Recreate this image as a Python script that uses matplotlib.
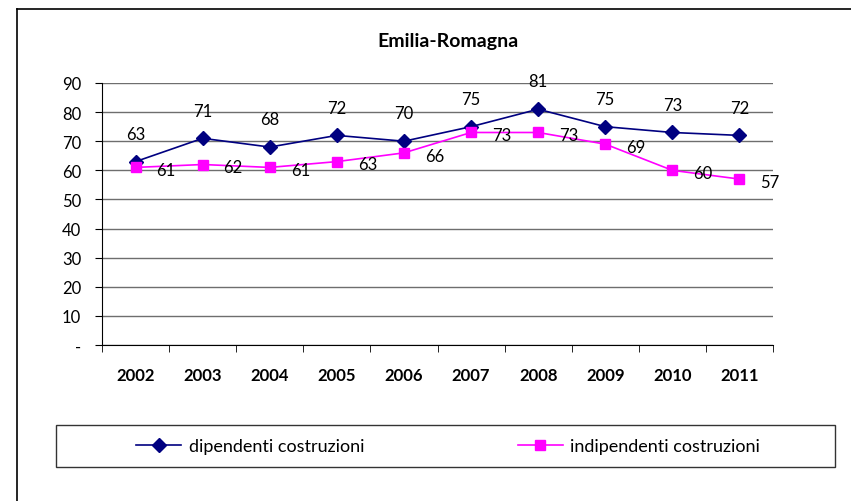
import numpy as np
import matplotlib.pyplot as plt
from matplotlib.lines import Line2D
from matplotlib.patches import Rectangle

plt.rcParams['font.family'] = ['Lato', 'DejaVu Sans']

years = ["2002", "2003", "2004", "2005", "2006", "2007", "2008", "2009", "2010", "2011"]
dipendenti = [63, 71, 68, 72, 70, 75, 81, 75, 73, 72]
indipendenti = [61, 62, 61, 63, 66, 73, 73, 69, 60, 57]

W, H = 851, 502
fig = plt.figure(figsize=(W / 100, H / 100), dpi=100)

# outer chart frame (right and bottom edges fall outside the image)
fig.add_artist(Line2D([17 / W, 1], [1 - 10 / H, 1 - 10 / H], color="black", lw=1.2))
fig.add_artist(Line2D([17 / W, 17 / W], [0, 1 - 10 / H], color="black", lw=1.2))

ax = fig.add_axes([102 / W, 1 - 346 / H, (773 - 102) / W, (346 - 84) / H])
x = np.arange(len(years))

ax.plot(x, dipendenti, color="#000080", marker="D", markersize=7, lw=1.2,
        label="dipendenti costruzioni", zorder=3)
ax.plot(x, indipendenti, color="#FF00FF", marker="s", markersize=7.5, lw=1.2,
        label="indipendenti costruzioni", zorder=3)

for xi, v in zip(x, dipendenti):
    ax.annotate(str(v), (xi, v), xytext=(0, 20), textcoords="offset points",
                ha="center", va="center", fontsize=12)
for xi, v in zip(x, indipendenti):
    ax.annotate(str(v), (xi, v), xytext=(22, -2), textcoords="offset points",
                ha="center", va="center", fontsize=12)

ax.set_xlim(-0.5, len(years) - 0.5)
ax.set_ylim(0, 90)
ax.set_yticks(np.arange(0, 91, 10))
ax.set_yticklabels(["-"] + [str(v) for v in range(10, 91, 10)], fontsize=12)
ax.yaxis.grid(True, color="#6e6e6e", lw=1)
ax.set_axisbelow(True)

ax.set_xticks(x)
ax.set_xticklabels(years, fontsize=12, fontweight="bold")
ax.set_xticks(np.arange(-0.5, len(years)), minor=True)
ax.tick_params(axis="x", which="major", length=0, pad=16)
ax.tick_params(axis="x", which="minor", length=5, direction="out", color="black")
ax.tick_params(axis="y", length=5, pad=10, color="black")

for s in ["top", "right"]:
    ax.spines[s].set_visible(False)
ax.spines["left"].set_color("black")
ax.spines["bottom"].set_color("black")

fig.text(448 / W, 1 - 42 / H, "Emilia-Romagna", ha="center", va="center",
         fontsize=14, fontweight="bold")

# legend box
fig.add_artist(Rectangle((56 / W, 1 - 468 / H), (835 - 56) / W, 42 / H,
                         transform=fig.transFigure, fill=False, edgecolor="#333333", lw=1))
fig.legend(loc="center", bbox_to_anchor=(448 / W, 1 - 447 / H),
           ncol=2, fontsize=13, frameon=False,
           handlelength=2.5, handletextpad=0.4, columnspacing=8.5, borderaxespad=0)

plt.savefig("out.png", dpi=100)
